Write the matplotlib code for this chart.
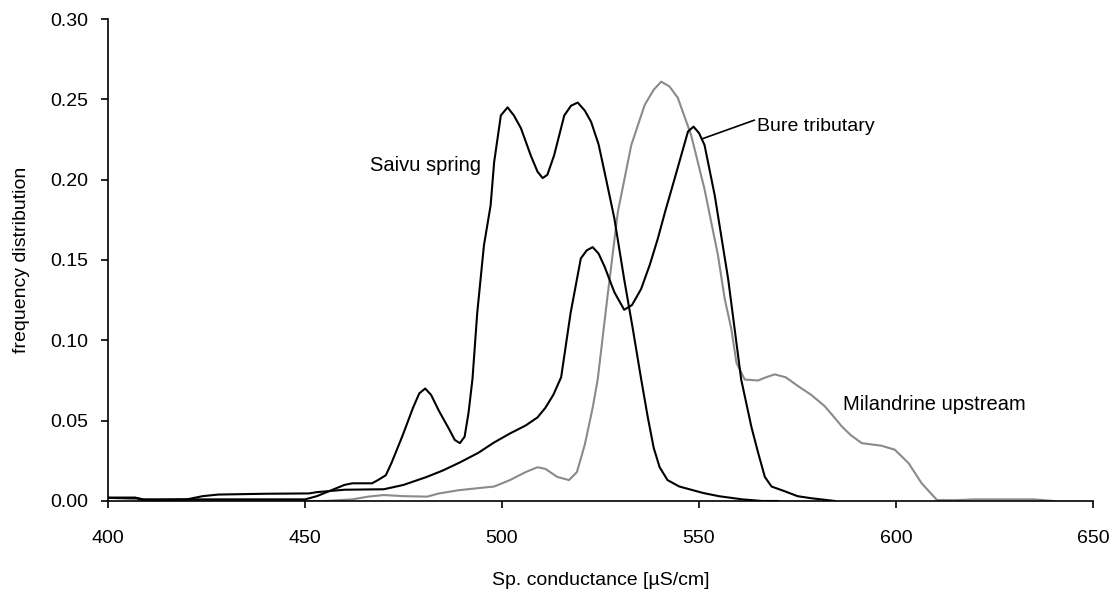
import matplotlib
matplotlib.use("Agg")
import matplotlib.pyplot as plt

plt.rcParams['font.family'] = ['Liberation Sans', 'DejaVu Sans']

# conductance classes [uS/cm] and frequency for each station
saivu_x = [400, 407, 409, 420, 450, 453, 457, 460, 462, 467, 468.5, 470.5, 472, 474.8,
           477.4, 479, 480.5, 482, 484, 486.5, 488, 489.3, 490.5, 491.5, 492.5, 493.7,
           495.4, 497.1, 498, 499.7, 501.4, 503, 504.8, 507.3, 509, 510.3, 511.5, 513.2,
           515.8, 517.5, 519.2, 521, 522.6, 524.5, 526, 528.5, 531, 533.2, 535.3, 537,
           538.5, 540, 542, 545, 548, 551, 555, 558, 561, 566, 570]
saivu_y = [0.002, 0.002, 0.001, 0.001, 0.001, 0.003, 0.007, 0.010, 0.011, 0.011, 0.013,
           0.016, 0.024, 0.041, 0.058, 0.067, 0.070, 0.066, 0.056, 0.045, 0.038, 0.036,
           0.040, 0.055, 0.076, 0.117, 0.159, 0.184, 0.211, 0.240, 0.245, 0.240, 0.232,
           0.215, 0.205, 0.201, 0.203, 0.215, 0.240, 0.246, 0.248, 0.243, 0.236, 0.222,
           0.205, 0.176, 0.138, 0.107, 0.076, 0.052, 0.033, 0.021, 0.013, 0.009, 0.007,
           0.005, 0.003, 0.002, 0.001, 0.000, 0.000]

bure_x = [400, 407, 409, 420, 424, 428, 440, 451, 453, 460, 470, 475, 480.8, 485, 489.3,
          494, 497.9, 502, 506, 509, 511, 513, 515, 517.4, 520, 521.5, 523, 524.5, 526,
          528.5, 531, 533, 535.3, 537.5, 539.5, 541.5, 543.8, 547.2, 548.6, 550, 551.4,
          554, 557.4, 560.7, 563.3, 565, 566.7, 568.4, 571.8, 575, 578.5, 584.5]
bure_y = [0.002, 0.002, 0.0005, 0.001, 0.003, 0.004, 0.0045, 0.0047, 0.0055, 0.007,
          0.0073, 0.010, 0.0149, 0.019, 0.024, 0.030, 0.0363, 0.042, 0.047, 0.052, 0.058,
          0.066, 0.077, 0.117, 0.151, 0.156, 0.158, 0.154, 0.146, 0.130, 0.119, 0.122,
          0.132, 0.147, 0.163, 0.181, 0.2006, 0.230, 0.233, 0.229, 0.2215, 0.190, 0.138,
          0.0756, 0.046, 0.030, 0.015, 0.009, 0.006, 0.003, 0.0017, 0.000]

milandrine_x = [400, 408, 420, 455, 462, 466, 470, 475, 481, 484, 489, 494, 498, 502, 506,
                509, 511, 514, 517, 519, 521, 523, 524.3, 526.8, 529.4, 532.8, 536.2, 538.5,
                540.4, 542.5, 544.6, 548, 551.4, 554.8, 556.5, 558.2, 559.5, 561.6, 565, 567,
                569.2, 572, 575.2, 578.5, 581.9, 584, 586.2, 588.5, 591.3, 596.3, 599.7,
                603.2, 606.5, 610.4, 615, 620, 635, 640]
milandrine_y = [0.002, 0.001, 0.0, 0.0, 0.001, 0.0027, 0.0037, 0.003, 0.0027, 0.0047,
                0.0067, 0.008, 0.009, 0.013, 0.018, 0.021, 0.020, 0.015, 0.013, 0.018,
                0.035, 0.058, 0.076, 0.128, 0.180, 0.2215, 0.2465, 0.256, 0.261, 0.258,
                0.251, 0.2277, 0.194, 0.153, 0.126, 0.107, 0.086, 0.0756, 0.075, 0.077,
                0.0788, 0.077, 0.0714, 0.066, 0.059, 0.053, 0.0465, 0.041, 0.036, 0.0344,
                0.0319, 0.0235, 0.011, 0.0006, 0.0005, 0.001, 0.001, 0.0]

x_ticks = [400, 450, 500, 550, 600, 650]
y_ticks = [0.00, 0.05, 0.10, 0.15, 0.20, 0.25, 0.30]

fig = plt.figure(figsize=(11.15, 5.94), dpi=100)
ax = fig.add_axes([0.0969, 0.1566, 0.8834, 0.8114])

ax.plot(milandrine_x, milandrine_y, color='#8a8a8a', lw=1.5)
ax.plot(bure_x, bure_y, color='black', lw=1.5)
ax.plot(saivu_x, saivu_y, color='black', lw=1.5)

ax.set_xlim(400, 650)
ax.set_ylim(0, 0.30)
ax.set_xticks(x_ticks)
ax.set_yticks(y_ticks)
ax.set_yticklabels([f"{v:.2f}" for v in y_ticks])
ax.tick_params(direction='out', length=5, width=1.2, labelsize=14, colors='black')
ax.tick_params(axis='x', pad=16)
ax.tick_params(axis='y', pad=9)
for side in ('top', 'right'):
    ax.spines[side].set_visible(False)
for side in ('left', 'bottom'):
    ax.spines[side].set_linewidth(1.2)

ax.set_xlabel("Sp. conductance [\u00b5S/cm]", fontsize=14, labelpad=18)
ax.set_ylabel("frequency distribution", fontsize=14, labelpad=15)

ax.text(494.6, 0.209, "Saivu spring", fontsize=14.5, ha='right', va='center')
ax.plot([551.0, 564.0], [0.2256, 0.237], color='black', lw=1.2)
ax.text(564.6, 0.233, "Bure tributary", fontsize=14, ha='left', va='center')
ax.text(586.6, 0.060, "Milandrine upstream", fontsize=14.5, ha='left', va='center')

fig.savefig("out.png", dpi=100)
